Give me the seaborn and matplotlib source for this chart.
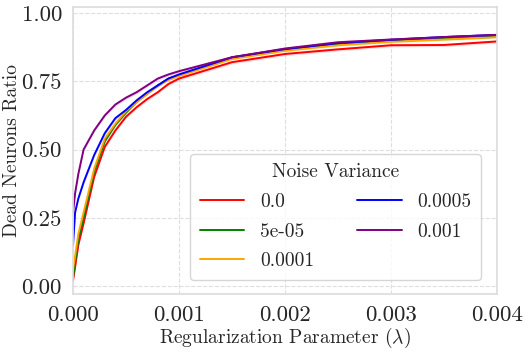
import matplotlib
matplotlib.use("Agg")
import matplotlib.pyplot as plt
import seaborn as sns
import pandas as pd

lambdas = [0, 2e-5, 5e-5, 1e-4, 2e-4, 3e-4, 4e-4, 5e-4, 6e-4, 7e-4, 8e-4, 9e-4,
           1e-3, 1.5e-3, 2e-3, 2.5e-3, 3e-3, 3.5e-3, 4e-3]
noise_labels = ["0.0", "5e-05", "0.0001", "0.0005", "0.001"]
ratio_0 = [0.02, 0.07, 0.15, 0.23, 0.40, 0.51, 0.57, 0.62, 0.655, 0.685, 0.71, 0.74,
           0.76, 0.82, 0.85, 0.867, 0.882, 0.883, 0.896]
ratio_5e5 = [0.03, 0.09, 0.17, 0.25, 0.42, 0.53, 0.59, 0.635, 0.675, 0.705, 0.735, 0.76,
             0.772, 0.835, 0.865, 0.885, 0.897, 0.905, 0.913]
ratio_1e4 = [0.06, 0.11, 0.19, 0.27, 0.43, 0.54, 0.595, 0.64, 0.675, 0.705, 0.735, 0.755,
             0.77, 0.832, 0.862, 0.882, 0.895, 0.903, 0.912]
ratio_5e4 = [0.15, 0.27, 0.32, 0.38, 0.48, 0.56, 0.615, 0.645, 0.68, 0.71, 0.735, 0.76,
             0.775, 0.838, 0.868, 0.89, 0.902, 0.912, 0.92]
ratio_1e3 = [0.27, 0.34, 0.41, 0.50, 0.57, 0.625, 0.665, 0.69, 0.71, 0.735, 0.76, 0.775,
             0.787, 0.838, 0.87, 0.893, 0.903, 0.912, 0.92]
band_halfwidth = [0.006, 0.005, 0.005, 0.006, 0.006]
colors = ["red", "green", "orange", "blue", "purple"]

series = [ratio_0, ratio_5e5, ratio_1e4, ratio_5e4, ratio_1e3]
rows = []
for lab, vals in zip(noise_labels, series):
    for x, v in zip(lambdas, vals):
        rows.append({"lambda": x, "ratio": v, "noise": lab})
df = pd.DataFrame(rows)

sns.set_theme(style="whitegrid", rc={"grid.linestyle": "--", "grid.color": "#dedede",
                                     "grid.linewidth": 0.8})
plt.rcParams["font.family"] = "serif"
plt.rcParams["font.serif"] = ["cmr10", "DejaVu Serif"]
plt.rcParams["mathtext.fontset"] = "cm"
plt.rcParams["axes.formatter.use_mathtext"] = True
plt.rcParams["axes.unicode_minus"] = False

fig = plt.figure(figsize=(5.29, 3.52), dpi=100)
ax = fig.add_axes([0.138, 0.165, 0.8015, 0.815])
for lab, vals, hw, c in zip(noise_labels, series, band_halfwidth, colors):
    ax.fill_between(lambdas, [v - hw for v in vals], [v + hw for v in vals],
                    color=c, alpha=0.15, linewidth=0)
sns.lineplot(data=df, x="lambda", y="ratio", hue="noise", hue_order=noise_labels,
             palette=colors, ax=ax, linewidth=1.4)

ax.set_xlim(0, 0.004)
ax.set_ylim(-0.029, 1.022)
ax.set_xticks([0, 0.001, 0.002, 0.003, 0.004])
ax.set_xticklabels(["0.000", "0.001", "0.002", "0.003", "0.004"])
ax.set_yticks([0, 0.25, 0.5, 0.75, 1.0])
ax.set_yticklabels(["0.00", "0.25", "0.50", "0.75", "1.00"])
ax.tick_params(labelsize=16.5, pad=2)
ax.set_xlabel(r"Regularization Parameter ($\lambda$)", fontsize=14, labelpad=1)
ax.set_ylabel("Dead Neurons Ratio", fontsize=14, labelpad=0)
for s in ax.spines.values():
    s.set_color("#dddddd")

leg = ax.legend(title="Noise Variance", ncol=2, loc="lower right", fontsize=14,
                title_fontsize=14, handlelength=2.3, handletextpad=0.8,
                columnspacing=2.2, borderpad=0.5, labelspacing=0.6,
                bbox_to_anchor=(0.985, 0.015))
for line in leg.get_lines():
    line.set_linewidth(1.4)

fig.savefig("out.png", dpi=100)
